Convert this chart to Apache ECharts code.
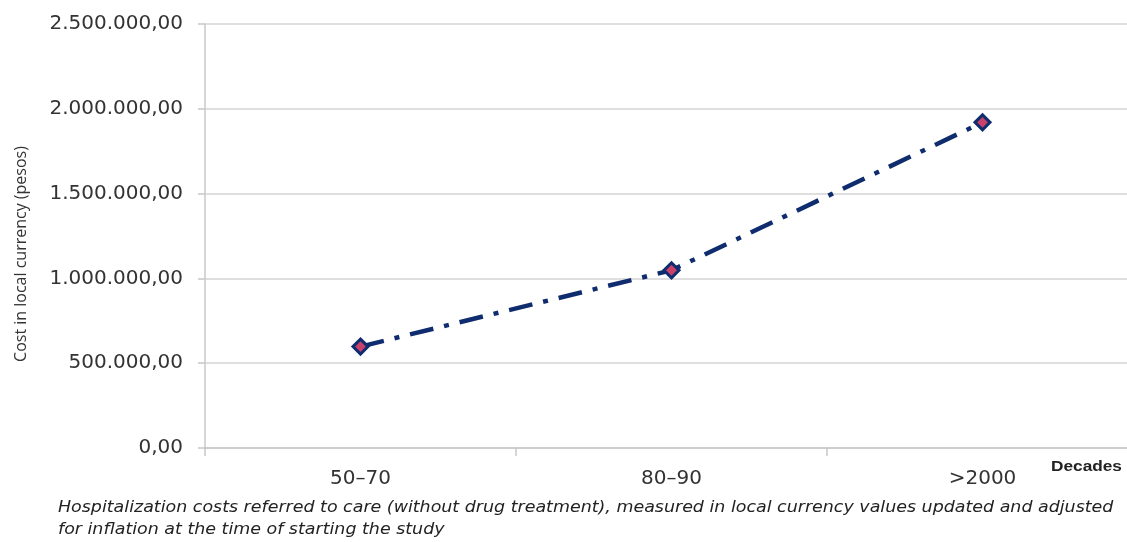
<!DOCTYPE html>
<html><head><meta charset="utf-8">
<script src="https://cdn.jsdelivr.net/npm/echarts@6/dist/echarts.min.js"></script>
<style>html,body{margin:0;padding:0;background:#fff;overflow:hidden}#c{width:1140px;height:542px}</style>
</head><body><div id="c"></div>
<script>
const categories = ['50–70', '80–90', '>2000'];
const costs = [598000, 1048000, 1920000];
const yTicks = { min: 0, max: 2500000, interval: 500000 };
const yAxisTitle = 'Cost in local currency (pesos)';
const xAxisTitle = 'Decades';
const captionLines = [
  'Hospitalization costs referred to care (without drug treatment), measured in local currency values updated and adjusted',
  'for inflation at the time of starting the study'
];

function fmt(v) {
  const s = Math.round(v).toString().replace(/\B(?=(\d{3})+(?!\d))/g, '.');
  return s + ',00';
}

const chart = echarts.init(document.getElementById('c'));
chart.setOption({
  animation: false,
  grid: { left: 205, top: 24, right: 2, bottom: 94, containLabel: false },
  xAxis: {
    type: 'category', data: categories, boundaryGap: true,
    axisLine: { lineStyle: { color: '#c8c8c8', width: 1.5 } },
    axisTick: { show: true, length: 8, lineStyle: { color: '#c8c8c8', width: 1.5 } },
    axisLabel: { fontFamily: 'DejaVu Sans', fontSize: 20, color: '#333', margin: 21 }
  },
  yAxis: {
    type: 'value', min: yTicks.min, max: yTicks.max, interval: yTicks.interval,
    axisLine: { show: true, lineStyle: { color: '#c8c8c8', width: 1.5 } },
    axisTick: { show: true, length: 7, lineStyle: { color: '#c8c8c8', width: 1.5 } },
    splitLine: { lineStyle: { color: '#d4d4d4', width: 1.5 } },
    axisLabel: { formatter: fmt, fontFamily: 'DejaVu Sans', fontSize: 20, color: '#333', margin: 22 }
  },
  graphic: [
    { type: 'text', x: 21, y: 254, rotation: Math.PI / 2,
      style: { text: yAxisTitle, font: '16px "Open Sans"', fill: '#333', align: 'center', verticalAlign: 'middle' } },
    { type: 'text', x: 1051, y: 459, scaleX: 1.15,
      style: { text: xAxisTitle, font: 'bold 15px "Liberation Sans"', fill: '#222', verticalAlign: 'top' } },
    { type: 'text', x: 58, y: 500, scaleX: 1.09,
      style: { text: captionLines[0], font: 'oblique 16px "DejaVu Sans"', fill: '#222', verticalAlign: 'top' } },
    { type: 'text', x: 58, y: 522, scaleX: 1.09,
      style: { text: captionLines[1], font: 'oblique 16px "DejaVu Sans"', fill: '#222', verticalAlign: 'top' } }
  ],
  series: [{
    type: 'line', data: costs,
    lineStyle: { color: '#0f2d6e', width: 4.5, type: [24, 11, 5, 11] },
    symbol: 'diamond', symbolSize: 15,
    itemStyle: { color: '#c9406a', borderColor: '#0f2d6e', borderWidth: 3 },
    z: 3
  }]
});
</script></body></html>
